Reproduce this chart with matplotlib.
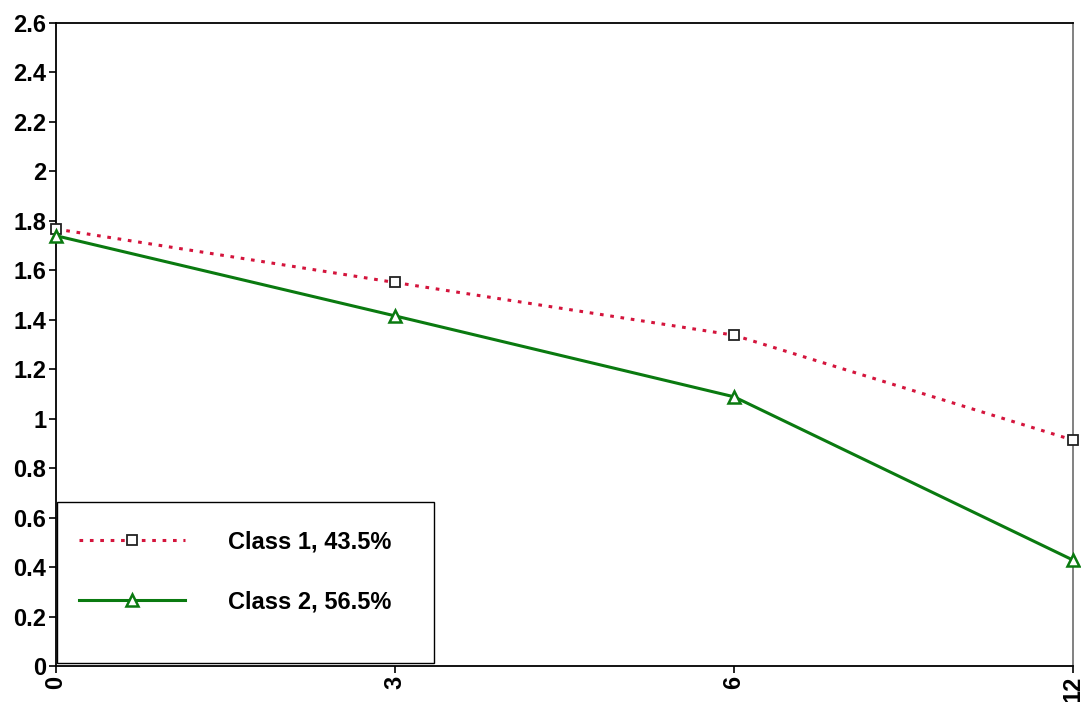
import matplotlib.pyplot as plt
from matplotlib.patches import Rectangle
import numpy as np

plt.rcParams['font.family'] = ['Liberation Sans', 'DejaVu Sans']

time_labels = ['0', '3', '6', '12']
class1 = [1.766, 1.550, 1.337, 0.913]
class2 = [1.739, 1.415, 1.088, 0.428]
yticks = [0, 0.2, 0.4, 0.6, 0.8, 1, 1.2, 1.4, 1.6, 1.8, 2, 2.2, 2.4, 2.6]

fig, ax = plt.subplots(figsize=(10.81, 7.02), dpi=100)
fig.subplots_adjust(left=0.0518, right=0.9926, top=0.9677, bottom=0.0513)

x = np.arange(len(time_labels))

ax.plot(x, class1, color='#d4143c', linestyle=(0, (1.2, 2.2)), linewidth=2.2,
        marker='s', markersize=7.5, markerfacecolor='white', markeredgecolor='#222222',
        markeredgewidth=1.3, clip_on=False, label='Class 1, 43.5%', zorder=3)
ax.plot(x, class2, color='#0a7a10', linestyle='-', linewidth=2.2,
        marker='^', markersize=9, markerfacecolor='white', markeredgecolor='#0a7a10',
        markeredgewidth=1.8, clip_on=False, label='Class 2, 56.5%', zorder=3)

ax.set_xlim(0, 3)
ax.set_ylim(0, 2.6)
ax.set_xticks(x)
ax.set_xticklabels(time_labels, rotation=90, fontsize=17, fontweight='bold')
ax.set_yticks(yticks)
ax.set_yticklabels(['%g' % v for v in yticks], fontsize=17, fontweight='bold')
ax.tick_params(axis='both', length=5, width=1.2, pad=2)

for s in ['left', 'bottom', 'top']:
    ax.spines[s].set_linewidth(1.3)
    ax.spines[s].set_color('black')
ax.spines['right'].set_color('#777777')
ax.spines['right'].set_linewidth(1.3)

# legend box
ax.add_patch(Rectangle((0.001, 0.005), 0.371, 0.25, transform=ax.transAxes,
                       facecolor='white', edgecolor='black', linewidth=1.0, zorder=4))
leg = ax.legend(loc='upper left', bbox_to_anchor=(0.0134, 0.225), frameon=False,
                prop={'size': 17, 'weight': 'bold'}, handlelength=4.5,
                handletextpad=1.8, labelspacing=1.57, borderaxespad=0)
leg.set_zorder(5)

plt.savefig('out.png', dpi=100)
